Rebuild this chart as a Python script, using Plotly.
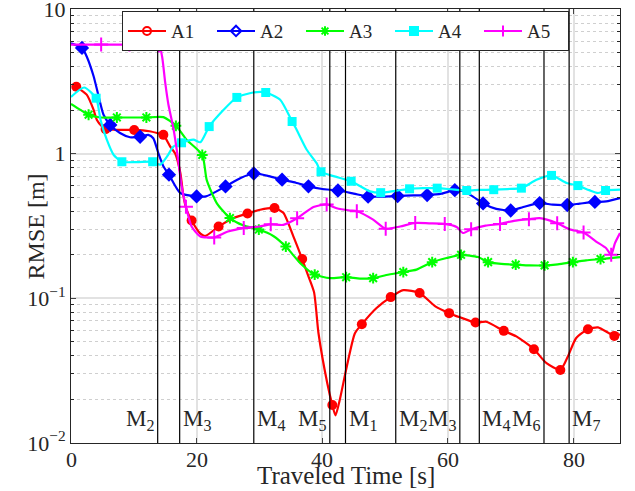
import plotly.graph_objects as go

# ---------------- data ----------------
# A1 (red, circles)
A1_mark_t = [0.84, 5.5, 10.06, 14.7, 19.2, 23.5, 28.1, 32.4, 36.8, 41.6, 46.3, 50.9, 55.5, 60.2, 64.4, 68.9, 73.7, 77.9, 82.3, 86.5]
A1_mark_v = [2.9, 1.48, 1.46, 1.35, 0.345, 0.314, 0.386, 0.421, 0.187, 0.0183, 0.0663, 0.102, 0.109, 0.079, 0.068, 0.0596, 0.0445, 0.032, 0.0612, 0.055]
A1_t = [2.5, 3.6, 4.1, 4.9, 7.8, 12.5, 13.7, 15.8, 16.6, 17.4, 17.9, 18.4, 20.6, 21.4, 25.9, 30.1, 33.8, 35.4, 37.8, 38.7, 39.4, 40.8, 42.1, 42.8, 43.9, 45.2, 48.6, 52.9, 58.0, 61.9, 66.1, 70.9, 75.7, 79.1, 80.4, 83.9, 87.4]
A1_v = [2.56, 2.01, 1.72, 1.55, 1.46, 1.43, 1.39, 1.12, 1.0, 0.74, 0.51, 0.41, 0.28, 0.27, 0.36, 0.41, 0.39, 0.268, 0.142, 0.11, 0.0574, 0.0259, 0.0155, 0.02, 0.0337, 0.0574, 0.0855, 0.114, 0.088, 0.074, 0.0689, 0.0546, 0.0356, 0.0396, 0.053, 0.063, 0.0565]

# A2 (blue, diamonds)
A2_mark_t = [1.75, 6.25, 11.0, 15.6, 20.0, 24.6, 29.1, 33.6, 37.8, 42.5, 47.3, 52.0, 56.7, 61.1, 65.6, 70.0, 74.6, 79.0, 83.4]
A2_mark_v = [5.39, 1.58, 1.31, 0.716, 0.507, 0.594, 0.73, 0.661, 0.595, 0.557, 0.505, 0.51, 0.518, 0.56, 0.453, 0.405, 0.456, 0.442, 0.464]
A2_t = [0, 2.5, 3.6, 4.4, 5.2, 7.8, 9.4, 12.3, 13.1, 13.9, 14.7, 17.4, 21.5, 27.0, 31.5, 35.8, 40.0, 45.0, 49.7, 54.5, 59.0, 62.5, 64.0, 67.7, 72.0, 76.7, 81.0, 85.2, 87.4]
A2_v = [5.8, 4.7, 3.43, 2.49, 1.85, 1.39, 1.30, 1.35, 1.28, 1.01, 0.82, 0.535, 0.507, 0.68, 0.70, 0.63, 0.57, 0.53, 0.505, 0.515, 0.53, 0.55, 0.505, 0.416, 0.428, 0.444, 0.452, 0.468, 0.494]

# A3 (green, asterisks)
A3_mark_t = [2.8, 7.3, 12.0, 16.7, 20.9, 25.3, 29.9, 34.2, 38.8, 43.8, 48.1, 52.9, 57.5, 62.1, 66.4, 70.8, 75.4, 79.9, 84.3]
A3_mark_v = [1.86, 1.78, 1.78, 1.56, 0.98, 0.359, 0.299, 0.228, 0.146, 0.14, 0.138, 0.152, 0.178, 0.2, 0.178, 0.171, 0.169, 0.178, 0.187]
A3_t = [0, 1.5, 4.7, 10.0, 14.7, 18.4, 21.6, 23.2, 27.4, 32.2, 36.5, 41.2, 46.0, 50.2, 55.0, 59.8, 64.8, 68.5, 73.0, 77.5, 82.0, 87.4]
A3_v = [2.21, 2.01, 1.78, 1.78, 1.79, 1.25, 0.66, 0.456, 0.32, 0.27, 0.175, 0.138, 0.137, 0.145, 0.158, 0.19, 0.193, 0.173, 0.169, 0.172, 0.183, 0.193]

# A4 (cyan, squares)
A4_mark_t = [4.0, 8.1, 13.0, 17.6, 22.0, 26.4, 31.0, 35.2, 39.8, 44.6, 49.3, 53.9, 58.3, 63.0, 67.3, 71.7, 76.5, 80.7, 85.1]
A4_mark_v = [2.42, 0.88, 0.88, 1.19, 1.54, 2.45, 2.65, 1.67, 0.75, 0.645, 0.538, 0.572, 0.578, 0.557, 0.564, 0.578, 0.708, 0.602, 0.557]
A4_t = [0, 2.1, 4.7, 5.7, 6.8, 10.5, 14.2, 15.3, 16.3, 19.5, 20.6, 24.3, 29.0, 33.3, 35.9, 37.5, 39.1, 41.8, 47.6, 51.8, 56.0, 60.5, 65.0, 69.5, 74.1, 78.9, 82.5, 83.9, 87.4]
A4_v = [2.47, 2.87, 1.72, 1.25, 0.98, 0.875, 0.84, 0.958, 1.12, 1.25, 1.2, 2.01, 2.65, 2.36, 1.47, 1.07, 0.86, 0.70, 0.549, 0.555, 0.578, 0.568, 0.562, 0.57, 0.66, 0.627, 0.56, 0.535, 0.564]

# A5 (magenta, plus)
A5_mark_t = [4.8, 9.3, 14.0, 18.3, 22.8, 27.5, 31.8, 36.0, 40.7, 45.5, 50.1, 54.8, 59.5, 63.7, 68.3, 72.9, 77.4, 81.6, 86.0]
A5_mark_v = [5.68, 5.68, 5.6, 0.43, 0.264, 0.306, 0.325, 0.358, 0.446, 0.40, 0.303, 0.332, 0.327, 0.30, 0.327, 0.353, 0.331, 0.285, 0.2]
A5_t = [0, 14.5, 15.0, 15.5, 16.3, 17.0, 17.6, 19.2, 20.6, 25.0, 30.0, 33.8, 38.6, 42.3, 44.4, 48.1, 52.4, 57.0, 61.4, 62.4, 66.0, 70.5, 74.6, 79.4, 83.6, 85.2, 86.6, 87.4]
A5_v = [5.68, 4.7, 3.1, 2.2, 1.5, 0.95, 0.6, 0.314, 0.268, 0.29, 0.314, 0.322, 0.428, 0.42, 0.405, 0.35, 0.314, 0.33, 0.311, 0.283, 0.318, 0.343, 0.359, 0.30, 0.247, 0.222, 0.241, 0.283]

series_names = ["A1", "A2", "A3", "A4", "A5"]

# manoeuvre markers (vertical lines)
M_times = [13.8, 17.3, 29.1, 41.2, 43.7, 51.7, 61.9, 65.0, 75.3, 79.3]
M_labels = ["2", "3", "4", "5", "1", "2", "3", "4", "6", "7"]
M_side = ["left", "right", "right", "left", "right", "right", "left", "right", "left", "right"]

x_ticks = [0, 20, 40, 60, 80]
x_ticktext = ["0", "20", "40", "60", "80"]
y_ticks = [0.01, 0.1, 1, 10]
y_ticktext = ["10<sup>\u22122</sup>", "10<sup>\u22121</sup>", "1", "10"]

# ---------------- styling ----------------
FONT = "Liberation Serif"
TXT = "#262626"
colors = ["#ff0000", "#0000ff", "#00ff00", "#00ffff", "#ff00ff"]
mk_sym = ["circle", "diamond", "asterisk", "square", "cross-thin"]
mk_size = [10, 11, 9, 9, 10]
leg_sym = ["circle-open", "diamond-open", "asterisk", "square", "cross-thin"]

series = [
    (A1_t, A1_v, A1_mark_t, A1_mark_v),
    (A2_t, A2_v, A2_mark_t, A2_mark_v),
    (A3_t, A3_v, A3_mark_t, A3_mark_v),
    (A4_t, A4_v, A4_mark_t, A4_mark_v),
    (A5_t, A5_v, A5_mark_t, A5_mark_v),
]

fig = go.Figure()
for i, (t, v, mt, mv) in enumerate(series):
    pts = sorted(list(zip(t, v)) + list(zip(mt, mv)))
    xs = [p[0] for p in pts]
    ys = [p[1] for p in pts]
    c = colors[i]
    fig.add_trace(go.Scatter(x=xs, y=ys, mode="lines", showlegend=False,
                             line=dict(color=c, width=2.2, shape="spline", smoothing=0.6),
                             hoverinfo="skip"))
    line_sym = mk_sym[i] in ("asterisk", "cross-thin")
    fig.add_trace(go.Scatter(x=mt, y=mv, mode="markers", showlegend=False,
                             marker=dict(symbol=mk_sym[i], size=mk_size[i], color=c,
                                         line=dict(color=c, width=2 if line_sym else 0))))
    fig.add_trace(go.Scatter(x=[None], y=[None], mode="lines+markers", name=series_names[i],
                             line=dict(color=c, width=2.2),
                             marker=dict(symbol=leg_sym[i], size=8, color=c,
                                         line=dict(color=c, width=2))))

shapes = []
annotations = []
for t, lab, side in zip(M_times, M_labels, M_side):
    shapes.append(dict(type="line", xref="x", yref="paper", x0=t, x1=t, y0=0, y1=1,
                       line=dict(color="black", width=1.2), layer="above"))
    annotations.append(dict(x=t, xref="x", y=0.053, yref="paper",
                            text="M<sub>" + lab + "</sub>", showarrow=False,
                            xanchor="right" if side == "left" else "left",
                            yanchor="middle", xshift=-1 if side == "left" else 1,
                            font=dict(family=FONT, size=23, color=TXT)))

# x tick labels (placed just under the axis, like the reference)
for xv, xt in zip(x_ticks, x_ticktext):
    annotations.append(dict(x=xv, xref="x", y=-0.039, yref="paper", text=xt,
                            showarrow=False, xanchor="center", yanchor="middle",
                            font=dict(family=FONT, size=22, color=TXT)))

# axis titles placed as annotations
annotations.append(dict(text="Traveled Time [s]", x=0.5, xref="paper", y=-0.076, yref="paper",
                        xanchor="center", yanchor="middle", showarrow=False,
                        font=dict(family=FONT, size=25, color=TXT)))
annotations.append(dict(text="RMSE [m]", x=-0.063, xref="paper", y=0.5, yref="paper",
                        xanchor="center", yanchor="middle", showarrow=False, textangle=-90,
                        font=dict(family=FONT, size=24, color=TXT)))

minor_y = [m * 10 ** e for e in (-2, -1, 0) for m in range(2, 10)]

fig.update_layout(
    width=635, height=491,
    margin=dict(l=71, r=15, t=9, b=48),
    paper_bgcolor="white", plot_bgcolor="white",
    font=dict(family=FONT, size=22, color=TXT),
    shapes=shapes, annotations=annotations,
    legend=dict(orientation="h", x=0.5, xanchor="center", y=0.949, yanchor="middle",
                bgcolor="white", bordercolor=TXT, borderwidth=1,
                font=dict(family=FONT, size=19, color=TXT),
                itemwidth=38, entrywidth=36, tracegroupgap=0),
    xaxis=dict(range=[0, 87.4], tickvals=x_ticks, ticks="inside", ticklen=5,
               showline=True, linecolor=TXT, linewidth=1, mirror="ticks",
               showgrid=True, gridcolor="#e2e2e2", gridwidth=1.5, zeroline=False,
               automargin=False, showticklabels=False),
    yaxis=dict(type="log", range=[-2, 1.0005], tickvals=y_ticks, ticktext=y_ticktext,
               ticks="inside", ticklen=5, showline=True, linecolor=TXT, linewidth=1,
               mirror="ticks", showgrid=True, gridcolor="#e2e2e2", gridwidth=1.5,
               zeroline=False, automargin=False, ticklabeloverflow="allow",
               tickfont=dict(family=FONT, size=22, color=TXT),
               minor=dict(tickvals=minor_y, ticks="inside", ticklen=3, tickcolor=TXT,
                          showgrid=True, gridcolor="#cfcfcf", gridwidth=1, griddash="dot")),
)

fig.write_html("out.html")
